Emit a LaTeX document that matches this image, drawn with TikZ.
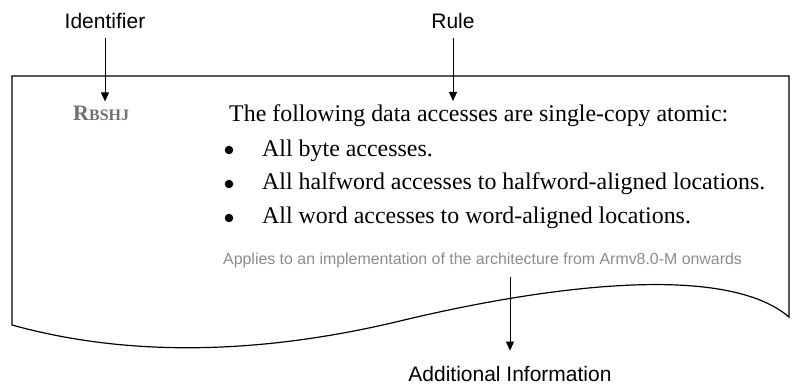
\documentclass[tikz,border=0pt]{standalone}
\usepackage{fontspec}
\setmainfont{Liberation Serif}
\setsansfont{Liberation Sans}
\usetikzlibrary{arrows.meta}
\definecolor{idgrey}{RGB}{112,112,112}
\definecolor{notegrey}{RGB}{140,140,140}
\tikzset{
  callout/.style={anchor=base, inner sep=0pt, font=\sffamily\fontsize{21}{24}\selectfont},
  pointer/.style={-{Triangle[width=8pt,length=9pt]}, line width=1pt},
  idtext/.style={anchor=base west, inner sep=0pt, text=idgrey, font=\bfseries\fontsize{22}{24}\selectfont},
  ruletext/.style={anchor=base west, inner sep=0pt, font=\fontsize{23.9}{28}\selectfont},
  notetext/.style={anchor=base west, inner sep=0pt, text=notegrey, font=\sffamily\fontsize{15.9}{18}\selectfont},
  dot/.style={circle, fill, inner sep=0pt, minimum size=8.5pt}
}
\begin{document}
\begin{tikzpicture}[x=1pt,y=-1pt]
  \useasboundingbox (0,0) rectangle (793,387);
  % torn page
  \draw[line width=1.2pt] (12,325) -- (12,76) -- (789,76) -- (789,317)
    .. controls (720,258) and (520,292) .. (400,321)
    .. controls (250,357) and (120,355) .. (12,325) -- cycle;
  % rule body
  \node[idtext] (rid) at (73,121) {R\fontsize{16}{18}\selectfont BSHJ};
  \node[ruletext] (lead) at (229,122) {The following data accesses are single-copy atomic:};
  \node[dot] (b1) at (229,150) {};
  \node[dot] (b2) at (229,184) {};
  \node[dot] (b3) at (229,218) {};
  \node[ruletext] (item1) at (262,157) {All byte accesses.};
  \node[ruletext] (item2) at (262,190) {All halfword accesses to halfword-aligned locations.};
  \node[ruletext] (item3) at (262,224) {All word accesses to word-aligned locations.};
  \node[notetext] (note) at (223,265) {Applies to an implementation of the architecture from Armv8.0-M onwards};
  % callouts
  \node[callout] (ident) at (105,29) {Identifier};
  \node[callout] (rule) at (453,29) {Rule};
  \node[callout] (addinfo) at (510,382) {Additional Information};
  \draw[pointer, shorten <=9pt, shorten >=5pt] (ident.south) -- (ident.south |- rid.north);
  \draw[pointer, shorten <=9pt, shorten >=4pt] (rule.south) -- (rule.south |- lead.north);
  \draw[pointer, shorten <=9pt, shorten >=16pt] (note.south -| addinfo.north) -- (addinfo.north);
\end{tikzpicture}
\end{document}
